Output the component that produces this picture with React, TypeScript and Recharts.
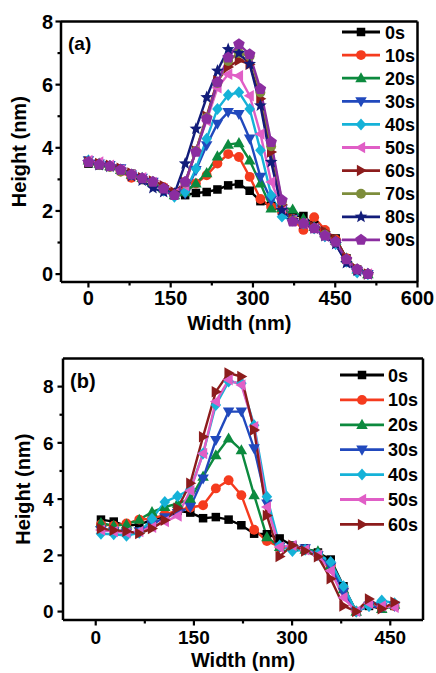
import React from 'react';
import { LineChart, Line, XAxis, YAxis, Legend, ReferenceLine } from 'recharts';

// ---- panel (a) ----
const widthA = [0, 19.6, 39.2, 58.8, 78.4, 98, 117.6, 137.2, 156.8, 176.4, 196, 215.6, 235.2, 254.8, 274.4, 294, 313.6, 333.2, 352.8, 372.4, 392, 411.6, 431.2, 450.8, 470.4, 490, 509.6];

const a0s = [3.5, 3.45, 3.4, 3.33, 3.18, 3.03, 2.9, 2.7, 2.5, 2.5, 2.57, 2.6, 2.68, 2.81, 2.85, 2.64, 2.31, 2.15, 2.0, 1.85, 1.84, 1.55, 1.35, 1.13, 0.5, 0.15, 0.0];
const a10s = [3.55, 3.5, 3.4, 3.25, 3.05, 3.0, 2.9, 2.75, 2.5, 2.6, 2.87, 3.13, 3.5, 3.8, 3.71, 3.08, 2.38, 2.13, 2.0, 1.75, 1.4, 1.8, 1.4, 1.1, 0.5, 0.15, 0.0];
const a20s = [3.6, 3.5, 3.42, 3.3, 3.15, 3.05, 2.92, 2.72, 2.5, 2.6, 2.87, 3.2, 3.73, 4.1, 4.15, 3.6, 2.87, 2.08, 2.1, 2.05, 1.75, 1.5, 1.3, 1.05, 0.5, 0.15, 0.0];
const a30s = [3.6, 3.5, 3.45, 3.35, 3.15, 3.05, 2.92, 2.65, 2.5, 2.55, 3.29, 4.08, 4.76, 5.13, 5.07, 4.29, 3.08, 2.34, 2.05, 1.75, 1.6, 1.45, 1.2, 0.95, 0.4, 0.1, 0.0];
const a40s = [3.6, 3.48, 3.42, 3.3, 3.15, 3.03, 2.9, 2.65, 2.45, 2.6, 3.34, 4.29, 5.23, 5.67, 5.76, 5.23, 3.92, 2.5, 1.82, 1.7, 1.6, 1.45, 1.2, 0.95, 0.4, 0.05, 0.0];
const a50s = [3.6, 3.55, 3.45, 3.3, 3.15, 3.05, 2.9, 2.7, 2.55, 2.81, 3.92, 4.86, 5.9, 6.33, 6.28, 5.65, 4.44, 2.92, 2.1, 1.7, 1.6, 1.45, 1.2, 0.95, 0.4, 0.1, 0.0];
const a60s = [3.55, 3.5, 3.45, 3.35, 3.2, 3.05, 2.95, 2.8, 2.6, 2.9, 3.9, 5.0, 6.12, 6.56, 6.77, 6.65, 5.55, 3.87, 2.2, 1.75, 1.6, 1.5, 1.35, 1.1, 0.5, 0.15, 0.0];
const a70s = [3.55, 3.45, 3.4, 3.25, 3.15, 3.0, 2.9, 2.7, 2.5, 2.9, 3.9, 4.95, 6.05, 6.75, 7.0, 6.9, 5.75, 4.05, 2.3, 1.7, 1.6, 1.45, 1.25, 1.0, 0.45, 0.15, 0.0];
const a80s = [3.55, 3.45, 3.4, 3.3, 3.1, 2.96, 2.72, 2.6, 2.55, 3.5, 4.6, 5.6, 6.44, 7.12, 7.0, 6.65, 5.34, 3.55, 2.03, 1.7, 1.6, 1.45, 1.2, 0.95, 0.35, 0.1, 0.0];
const a90s = [3.55, 3.47, 3.42, 3.3, 3.15, 3.03, 2.92, 2.71, 2.5, 2.92, 3.87, 4.92, 6.07, 6.86, 7.28, 6.96, 5.86, 4.18, 2.34, 1.66, 1.6, 1.45, 1.22, 1.02, 0.47, 0.15, 0.0];

const xTicksA = [0, 75, 150, 225, 300, 375, 450, 525, 600];
const xMajorA = [0, 150, 300, 450, 600];
const yTicksA = [0, 1, 2, 3, 4, 5, 6, 7, 8];
const yMajorA = [0, 2, 4, 6, 8];

// ---- panel (b) ----
const widthB = [8, 27.5, 47, 66.5, 86, 105.5, 125, 144.5, 164, 183.5, 203, 222.5, 242, 261.5, 281, 300.5, 320, 339.5, 359, 378.5, 398, 417.5, 437, 456.5];

const b0s = [3.27, 3.2, 3.05, 3.1, 3.25, 3.4, 3.58, 3.52, 3.32, 3.36, 3.27, 3.07, 2.77, 2.75, 2.6, 2.35, 2.25, 2.1, 1.85, 0.9, 0.0, 0.2, 0.1, 0.2];
const b10s = [3.1, 3.05, 3.13, 3.27, 3.3, 3.45, 3.6, 3.7, 3.78, 4.38, 4.67, 4.14, 2.91, 2.51, 2.3, 2.3, 2.2, 2.05, 1.65, 0.8, 0.0, 0.25, 0.15, 0.2];
const b20s = [3.15, 3.05, 3.1, 3.27, 3.54, 3.72, 3.84, 4.0, 4.8, 5.56, 6.16, 5.74, 4.14, 2.65, 2.3, 2.3, 2.2, 2.15, 1.65, 0.8, 0.0, 0.35, 0.1, 0.25];
const b30s = [2.9, 2.85, 2.8, 2.85, 3.1, 3.35, 3.5, 3.72, 4.73, 6.1, 7.11, 7.11, 5.8, 3.84, 2.3, 2.25, 2.25, 2.0, 1.6, 0.7, 0.0, 0.2, 0.15, 0.2];
const b40s = [2.77, 2.75, 2.7, 2.8, 3.3, 3.9, 4.1, 4.35, 5.62, 7.35, 8.18, 8.12, 6.63, 4.08, 2.35, 2.15, 2.2, 2.05, 1.76, 0.9, 0.0, 0.2, 0.39, 0.3];
const b50s = [2.9, 2.85, 2.8, 2.85, 3.0, 3.2, 3.4, 4.3, 5.62, 7.47, 8.24, 8.06, 6.57, 3.72, 2.3, 2.35, 2.2, 2.0, 1.45, 0.5, 0.0, 0.3, 0.2, 0.15];
const b60s = [2.95, 2.89, 2.86, 2.78, 2.95, 3.25, 3.67, 4.56, 6.22, 7.82, 8.48, 8.36, 6.46, 3.42, 1.96, 2.36, 2.15, 1.95, 1.17, 0.2, 0.0, 0.45, 0.1, 0.33];

const xTicksB = [0, 75, 150, 225, 300, 375, 450];
const xMajorB = [0, 150, 300, 450];
const yTicksB = [0, 1, 2, 3, 4, 5, 6, 7, 8];
const yMajorB = [0, 2, 4, 6, 8];

const seriesA = [
  { key: 's0', name: '0s', color: '#000000', shape: 'square', values: a0s },
  { key: 's10', name: '10s', color: '#f53b1e', shape: 'circle', values: a10s },
  { key: 's20', name: '20s', color: '#0c8a3e', shape: 'up', values: a20s },
  { key: 's30', name: '30s', color: '#2149bd', shape: 'down', values: a30s },
  { key: 's40', name: '40s', color: '#15b2d8', shape: 'diamond', values: a40s },
  { key: 's50', name: '50s', color: '#e05ec6', shape: 'left', values: a50s },
  { key: 's60', name: '60s', color: '#8c1c1c', shape: 'right', values: a60s },
  { key: 's70', name: '70s', color: '#7d8d3b', shape: 'circle', values: a70s },
  { key: 's80', name: '80s', color: '#121c7a', shape: 'star', values: a80s },
  { key: 's90', name: '90s', color: '#8b2da0', shape: 'pentagon', values: a90s },
];

const seriesB = [
  { key: 's0', name: '0s', color: '#000000', shape: 'square', values: b0s },
  { key: 's10', name: '10s', color: '#f53b1e', shape: 'circle', values: b10s },
  { key: 's20', name: '20s', color: '#0c8a3e', shape: 'up', values: b20s },
  { key: 's30', name: '30s', color: '#2149bd', shape: 'down', values: b30s },
  { key: 's40', name: '40s', color: '#15b2d8', shape: 'diamond', values: b40s },
  { key: 's50', name: '50s', color: '#e05ec6', shape: 'left', values: b50s },
  { key: 's60', name: '60s', color: '#8c1c1c', shape: 'right', values: b60s },
];

const dataA = widthA.map((w, i) => {
  const row: any = { w };
  seriesA.forEach(s => { row[s.key] = s.values[i]; });
  return row;
});
const dataB = widthB.map((w, i) => {
  const row: any = { w };
  seriesB.forEach(s => { row[s.key] = s.values[i]; });
  return row;
});

const FONT = '"Liberation Sans", Arial, sans-serif';
const M = 1.15; // marker scale

function polyPoints(cx: number, cy: number, n: number, rOut: number, rIn?: number) {
  const pts: string[] = [];
  const steps = rIn ? n * 2 : n;
  for (let k = 0; k < steps; k++) {
    const r = rIn && k % 2 === 1 ? rIn : rOut;
    const a = -Math.PI / 2 + (k * 2 * Math.PI) / steps;
    pts.push(`${cx + r * Math.cos(a)},${cy + r * Math.sin(a)}`);
  }
  return pts.join(' ');
}

function Marker({ cx, cy, shape, color }: any) {
  if (cx == null || cy == null) return null;
  const a = 5.2 * M, b = 3.6 * M, w = 5 * M;
  switch (shape) {
    case 'square':
      return <rect x={cx - 3.7 * M} y={cy - 3.7 * M} width={7.4 * M} height={7.4 * M} fill={color} />;
    case 'circle':
      return <circle cx={cx} cy={cy} r={4.3 * M} fill={color} />;
    case 'up':
      return <polygon points={`${cx},${cy - a} ${cx + w},${cy + b} ${cx - w},${cy + b}`} fill={color} />;
    case 'down':
      return <polygon points={`${cx},${cy + a} ${cx + w},${cy - b} ${cx - w},${cy - b}`} fill={color} />;
    case 'left':
      return <polygon points={`${cx - a},${cy} ${cx + b},${cy - w} ${cx + b},${cy + w}`} fill={color} />;
    case 'right':
      return <polygon points={`${cx + a},${cy} ${cx - b},${cy - w} ${cx - b},${cy + w}`} fill={color} />;
    case 'diamond':
      return <polygon points={`${cx},${cy - a} ${cx + 4.6 * M},${cy} ${cx},${cy + a} ${cx - 4.6 * M},${cy}`} fill={color} />;
    case 'star':
      return <polygon points={polyPoints(cx, cy, 5, 5.8 * M, 2.5 * M)} fill={color} />;
    case 'pentagon':
      return <polygon points={polyPoints(cx, cy, 5, 5.3 * M)} fill={color} />;
    default:
      return null;
  }
}

function XTick({ x, y, payload, majors, fs, dy }: any) {
  const v = payload.value;
  const major = majors.includes(v);
  return (
    <g>
      <line x1={x} x2={x} y1={y} y2={y + (major ? 5.5 : 3.5)} stroke="#000" strokeWidth={2.2} />
      {major && (
        <text x={x} y={y + dy} textAnchor="middle" fontFamily={FONT} fontWeight="bold" fontSize={fs} fill="#000">{v}</text>
      )}
    </g>
  );
}

function YTick({ x, y, payload, majors, fs, dx }: any) {
  const v = payload.value;
  const major = majors.includes(v);
  return (
    <g>
      <line x1={x} x2={x - (major ? 5.5 : 3.5)} y1={y} y2={y} stroke="#000" strokeWidth={2.2} />
      {major && (
        <text x={x - dx} y={y + fs * 0.36} textAnchor="end" fontFamily={FONT} fontWeight="bold" fontSize={fs} fill="#000">{v}</text>
      )}
    </g>
  );
}

function LegendBox({ series, rowGap, y0, lineX1, lineX2, textX }: any) {
  return (
    <svg width={100} height={y0 + rowGap * series.length} style={{ overflow: 'visible' }}>
      {series.map((s: any, i: number) => {
        const cy = y0 + i * rowGap;
        return (
          <g key={s.key}>
            <line x1={lineX1} x2={lineX2} y1={cy} y2={cy} stroke={s.color} strokeWidth={2.8} />
            <Marker cx={(lineX1 + lineX2) / 2} cy={cy} shape={s.shape} color={s.color} />
            <text x={textX} y={cy + 6.5} fontFamily={FONT} fontWeight="bold" fontSize={18} fill="#000">{s.name}</text>
          </g>
        );
      })}
    </svg>
  );
}

function Panel({ data, series, width, height, margin, yAxisWidth, xAxisHeight, xDomain, yDomain, xTicks, xMajor, yTicks, yMajor, tickFs, xTickDy, yTickDx, titleDy, yTitleX, legend, letter, letterPos }: any) {
  return (
    <div style={{ position: 'relative', width, height }}>
      <LineChart width={width} height={height} data={data} margin={margin}>
        <XAxis
          dataKey="w"
          type="number"
          domain={xDomain}
          ticks={xTicks}
          interval={0}
          allowDataOverflow
          tickSize={0}
          tickMargin={0}
          tickLine={false}
          height={xAxisHeight}
          axisLine={{ stroke: '#000', strokeWidth: 2.5 }}
          tick={(p: any) => <XTick {...p} majors={xMajor} fs={tickFs} dy={xTickDy} />}
          label={{
            content: (p: any) => {
              const vb = p.viewBox || {};
              return (
                <text x={vb.x + vb.width / 2} y={vb.y + titleDy} textAnchor="middle" fontFamily={FONT} fontWeight="bold" fontSize={20} fill="#000">Width (nm)</text>
              );
            },
          }}
        />
        <YAxis
          type="number"
          domain={yDomain}
          ticks={yTicks}
          interval={0}
          allowDataOverflow
          tickSize={0}
          tickMargin={0}
          tickLine={false}
          width={yAxisWidth}
          axisLine={{ stroke: '#000', strokeWidth: 2.5 }}
          tick={(p: any) => <YTick {...p} majors={yMajor} fs={tickFs} dx={yTickDx} />}
          label={{
            content: (p: any) => {
              const vb = p.viewBox || {};
              const cy = vb.y + vb.height / 2;
              return (
                <text x={yTitleX} y={cy} transform={`rotate(-90, ${yTitleX}, ${cy})`} textAnchor="middle" fontFamily={FONT} fontWeight="bold" fontSize={20} fill="#000">Height (nm)</text>
              );
            },
          }}
        />
        <ReferenceLine y={yDomain[1]} stroke="#000" strokeWidth={2.5} ifOverflow="visible" />
        <ReferenceLine x={xDomain[1]} stroke="#000" strokeWidth={2.5} ifOverflow="visible" />
        {series.map((s: any) => (
          <Line
            key={s.key}
            dataKey={s.key}
            name={s.name}
            stroke={s.color}
            strokeWidth={2.4}
            isAnimationActive={false}
            dot={(p: any) => <Marker key={`${s.key}-${p.index}`} cx={p.cx} cy={p.cy} shape={s.shape} color={s.color} />}
            activeDot={false}
          />
        ))}
        <Legend
          layout="horizontal"
          verticalAlign="middle"
          align="center"
          wrapperStyle={{ position: 'absolute', left: legend.left, top: legend.top, width: 100 }}
          content={() => <LegendBox series={series} {...legend} />}
        />
      </LineChart>
      <div style={{ position: 'absolute', left: letterPos[0], top: letterPos[1], fontFamily: FONT, fontWeight: 'bold', fontSize: letterPos[2], lineHeight: 1 }}>{letter}</div>
    </div>
  );
}

export default function App() {
  return (
    <div style={{ position: 'absolute', left: 0, top: 0, width: 436, height: 673, background: '#fff' }}>
      <div style={{ position: 'absolute', left: 0, top: 0 }}>
        <Panel
          data={dataA}
          series={seriesA}
          width={436}
          height={340}
          margin={{ top: 21.5, right: 18.5, left: 0, bottom: 0 }}
          yAxisWidth={61}
          xAxisHeight={58}
          xDomain={[-50, 600]}
          yDomain={[-0.25, 8]}
          xTicks={xTicksA}
          xMajor={xMajorA}
          yTicks={yTicksA}
          yMajor={yMajorA}
          tickFs={20}
          xTickDy={22.5}
          yTickDx={8}
          titleDy={48}
          yTitleX={26}
          legend={{ left: 335, top: 20, rowGap: 23.1, y0: 12, lineX1: 7, lineX2: 45, textX: 50 }}
          letter="(a)"
          letterPos={[68, 34, 19]}
        />
      </div>
      <div style={{ position: 'absolute', left: 0, top: 340 }}>
        <Panel
          data={dataB}
          series={seriesB}
          width={436}
          height={333}
          margin={{ top: 18.5, right: 13, left: 0, bottom: 0 }}
          yAxisWidth={63}
          xAxisHeight={53}
          xDomain={[-50, 500]}
          yDomain={[-0.3, 9]}
          xTicks={xTicksB}
          xMajor={xMajorB}
          yTicks={yTicksB}
          yMajor={yMajorB}
          tickFs={19}
          xTickDy={24}
          yTickDx={9.5}
          titleDy={47}
          yTitleX={30}
          legend={{ left: 335, top: 20, rowGap: 24.9, y0: 15, lineX1: 5, lineX2: 49, textX: 53 }}
          letter="(b)"
          letterPos={[70, 31, 20]}
        />
      </div>
    </div>
  );
}
